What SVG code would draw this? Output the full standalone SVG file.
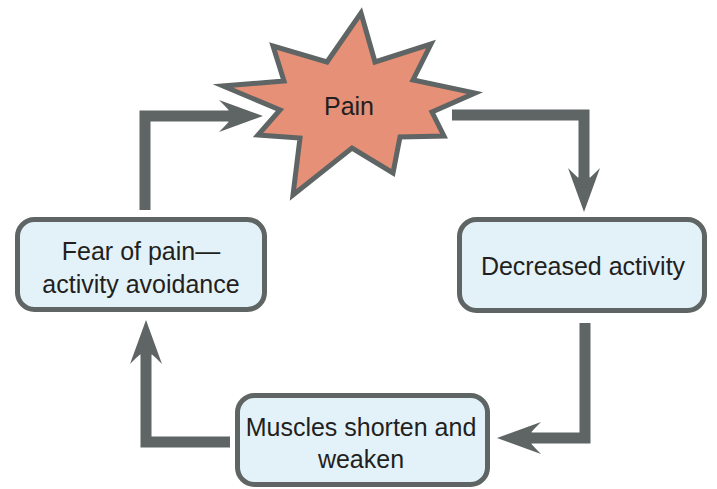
<svg xmlns="http://www.w3.org/2000/svg" width="717" height="489" viewBox="0 0 717 489">
  <style>
    .box { fill: #e3f2f9; stroke: #5f6564; stroke-width: 5; }
    .lbl { font-family: "Liberation Sans", Arial, sans-serif; font-size: 25px; fill: #231f20; text-anchor: middle; }
    .conn { fill: none; stroke: #5f6564; stroke-width: 11; stroke-linejoin: miter; stroke-linecap: butt; }
  </style>
  <defs>
    <marker id="ah" markerUnits="userSpaceOnUse" orient="auto" refX="0" refY="0" markerWidth="60" markerHeight="40" overflow="visible">
      <path d="M34,0 L-10,-16 Q-2,-8 0,-5.5 L-1,-5.5 L-1,5.5 L0,5.5 Q-2,8 -10,16 Z" fill="#5f6564"/>
    </marker>
  </defs>
  <rect width="717" height="489" fill="#ffffff"/>

  <g id="connectors">
    <path class="conn" d="M145,210 L145,116 L229,116" marker-end="url(#ah)"/>
    <path class="conn" d="M452,115 L584,115 L584,178" marker-end="url(#ah)"/>
    <path class="conn" d="M585,323 L585,438 L531,438" marker-end="url(#ah)"/>
    <path class="conn" d="M230,442 L146,442 L146,354" marker-end="url(#ah)"/>
  </g>

  <g id="pain">
    <polygon points="361,13 375,62 431,44 413,80 475,93 432,112 444,136 400,137 393,173 352,148 293,195 300,138 258,135 280,110 223,86 284,81 273,46 327,62" fill="#e59077" stroke="#5f6564" stroke-width="5" stroke-linejoin="miter" stroke-miterlimit="10"/>
    <text class="lbl" x="349" y="115" font-size="24">Pain</text>
  </g>

  <g id="decreased">
    <rect class="box" x="459.5" y="219.5" width="245" height="91" rx="17"/>
    <text class="lbl" x="583" y="275">Decreased activity</text>
  </g>

  <g id="muscles">
    <rect class="box" x="237.5" y="395.5" width="250" height="89" rx="17"/>
    <text class="lbl" x="361" y="436">Muscles shorten and</text>
    <text class="lbl" x="361" y="468">weaken</text>
  </g>

  <g id="fear">
    <rect class="box" x="17.5" y="219.5" width="247" height="90" rx="17"/>
    <text class="lbl" x="141" y="260">Fear of pain—</text>
    <text class="lbl" x="141" y="293">activity avoidance</text>
  </g>
</svg>
